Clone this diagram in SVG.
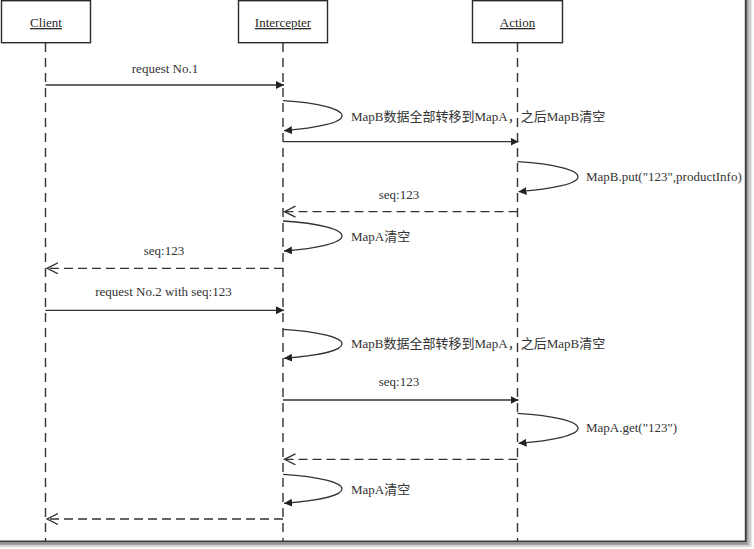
<svg xmlns="http://www.w3.org/2000/svg" width="754" height="549" viewBox="0 0 754 549">
<defs>
<style>
.box{fill:#fff;stroke:#2a2a2a;stroke-width:1.4}
.hd{font-family:"Liberation Serif","Noto Sans CJK SC",serif;font-size:13px;fill:#2a2a2a;text-anchor:middle;text-decoration:underline}
.lbl{font-family:"Liberation Serif","Noto Sans CJK SC",serif;font-size:13px;fill:#333}
.mid{text-anchor:middle}
.life{stroke:#333;stroke-width:1.4;stroke-dasharray:9,6;fill:none}
.msg{stroke:#333;stroke-width:1.3;fill:none;marker-end:url(#fill)}
.ret{stroke:#333;stroke-width:1.3;fill:none;stroke-dasharray:9,5;marker-end:url(#open)}
.self{stroke:#333;stroke-width:1.3;fill:none;marker-end:url(#fill)}
</style>
<marker id="fill" markerUnits="userSpaceOnUse" markerWidth="12" markerHeight="12" refX="8" refY="4" orient="auto"><path d="M0,0 L8,4 L0,8 z" fill="#222"/></marker>
<marker id="open" markerUnits="userSpaceOnUse" markerWidth="14" markerHeight="14" refX="11" refY="6" orient="auto"><path d="M0,0.5 L11,6 L0,11.5" fill="none" stroke="#333" stroke-width="1.3"/></marker>
</defs>
<rect width="754" height="549" fill="#fff"/>
<g id="frame" fill="none">
<path d="M745.8,0 V541.5 H0" stroke="#3a3a3a" stroke-width="2"/>
<path d="M747.8,0 V543.3 H0" stroke="#777" stroke-width="1"/>
<path d="M749,0 V544.6 H0" stroke="#999" stroke-width="1"/>
<path d="M750.2,0 V545.8 H0" stroke="#bbb" stroke-width="1"/>
<path d="M751.3,0 V547 H0" stroke="#ddd" stroke-width="1"/>
</g>
<g id="client">
<line class="life" x1="45.5" y1="43" x2="45.5" y2="541"/>
<rect class="box" x="1.5" y="0.7" width="89" height="42"/>
<text class="hd" x="46" y="27">Client</text>
</g>
<g id="intercepter">
<line class="life" x1="283" y1="43" x2="283" y2="541"/>
<rect class="box" x="238.5" y="0.7" width="89" height="42"/>
<text class="hd" x="283" y="27">Intercepter</text>
</g>
<g id="action">
<line class="life" x1="517.5" y1="43" x2="517.5" y2="541"/>
<rect class="box" x="472.5" y="0.7" width="90" height="42"/>
<text class="hd" x="517.5" y="27">Action</text>
</g>
<g id="connectors">
<line class="msg" x1="45.5" y1="85" x2="284" y2="85"/>
<path class="self" d="M283,100.7 C320,103 342,109 342,115.7 C342,122.5 318,128 284,130.7"/>
<line class="msg" x1="283" y1="141.7" x2="518.5" y2="141.7"/>
<path class="self" d="M517.5,161.7 C555,164 578,170 578,176.7 C578,183.5 554,189 518.5,191.7"/>
<line class="ret" x1="517.5" y1="211.7" x2="284.5" y2="211.7"/>
<path class="self" d="M283,221 C320,223.3 342,229.3 342,236 C342,242.8 318,248.3 284,251"/>
<line class="ret" x1="283" y1="268.3" x2="47" y2="268.3"/>
<line class="msg" x1="45.5" y1="310.3" x2="284" y2="310.3"/>
<path class="self" d="M283,329.3 C320,331.6 342,337.6 342,343.8 C342,350.6 318,355.8 284,358.3"/>
<line class="msg" x1="283" y1="400" x2="518.5" y2="400"/>
<path class="self" d="M517.5,413.3 C555,415.6 578,421.6 578,428.3 C578,435 554,440.6 518.5,443.3"/>
<line class="ret" x1="517.5" y1="459.3" x2="284.5" y2="459.3"/>
<path class="self" d="M283,474.3 C320,476.6 342,482.6 342,488.8 C342,495.6 318,500.8 284,503.3"/>
<line class="ret" x1="283" y1="519" x2="47" y2="519"/>
</g>
<g id="labels">
<text class="lbl mid" x="165" y="73">request No.1</text>
<text class="lbl" x="351" y="121">MapB数据全部转移到MapA，之后MapB清空</text>
<text class="lbl" x="586" y="181">MapB.put("123",productInfo)</text>
<text class="lbl mid" x="399" y="198.5">seq:123</text>
<text class="lbl" x="351" y="240.5">MapA清空</text>
<text class="lbl mid" x="164" y="254.5">seq:123</text>
<text class="lbl mid" x="163.5" y="296">request No.2 with seq:123</text>
<text class="lbl" x="351" y="348">MapB数据全部转移到MapA，之后MapB清空</text>
<text class="lbl mid" x="399" y="385.5">seq:123</text>
<text class="lbl" x="586" y="432">MapA.get("123")</text>
<text class="lbl" x="351" y="494">MapA清空</text>
</g>
</svg>
